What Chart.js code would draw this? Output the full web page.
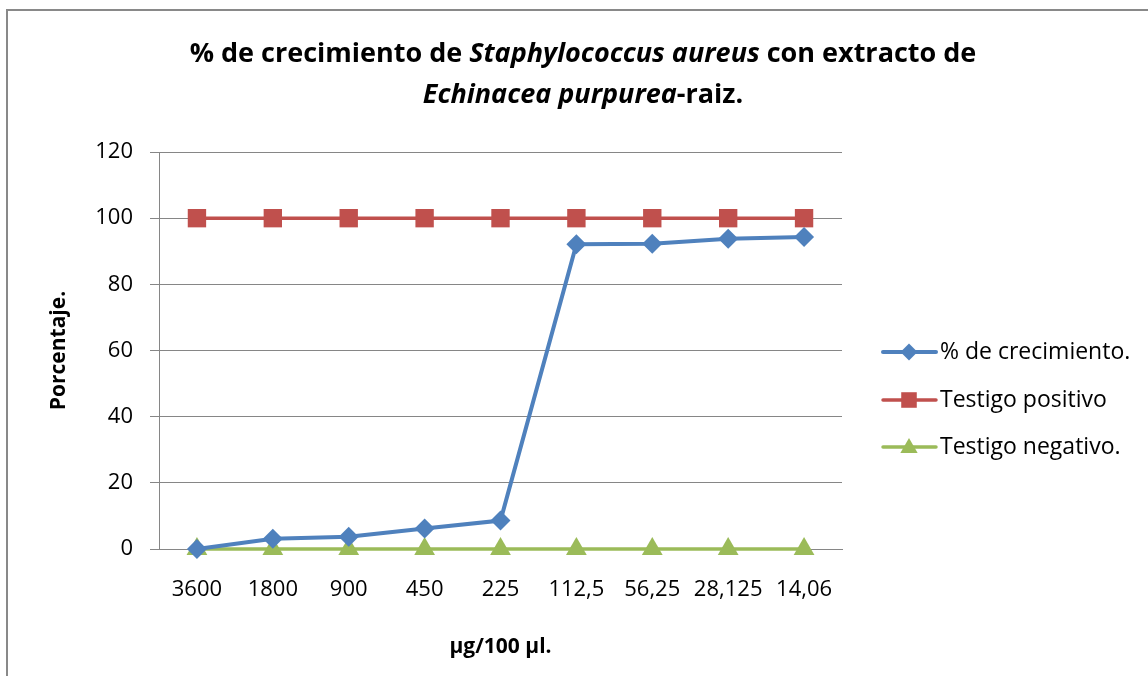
<!DOCTYPE html>
<html>
<head>
<meta charset="utf-8">
<script src="https://cdn.jsdelivr.net/npm/chart.js@4/dist/chart.umd.min.js"></script>
<style>
  html, body { margin:0; padding:0; background:#fff; }
  #wrap { position:relative; width:1148px; height:676px; overflow:hidden; background:#fff; }
  #frame { position:absolute; left:6px; top:9px; width:1200px; height:700px; border-left:2px solid #898989; border-top:2px solid #898989; box-sizing:border-box; }
  canvas { position:absolute; left:0; top:0; }
  .title { position:absolute; left:0; width:1166px; text-align:center; font-family:"Open Sans", sans-serif; font-weight:bold; font-size:27px; line-height:36px; color:#000; white-space:nowrap; }
</style>
</head>
<body>
<div id="wrap">
  <div id="frame"></div>
  <canvas id="c" width="1148" height="676"></canvas>
  <div class="title" style="top:34px;">% de crecimiento de <i>Staphylococcus aureus</i> con extracto de</div>
  <div class="title" style="top:75px;"><i>Echinacea purpurea</i>-raiz.</div>
</div>
<script>
const categories = ['3600', '1800', '900', '450', '225', '112,5', '56,25', '28,125', '14,06'];
const seriesNames = ['% de crecimiento.', 'Testigo positivo', 'Testigo negativo.'];
const crecimiento = [0, 3.1, 3.7, 6.2, 8.6, 92.1, 92.3, 93.8, 94.3];
const testigoPositivo = [100, 100, 100, 100, 100, 100, 100, 100, 100];
const testigoNegativo = [0, 0, 0, 0, 0, 0, 0, 0, 0];
const yAxisTitle = 'Porcentaje.';
const xAxisTitle = 'µg/100 µl.';

const BLUE = '#4F81BD', RED = '#C0504D', GREEN = '#9BBB59';
const FONT = '"Open Sans", sans-serif';

const legendPlugin = {
  id: 'sideLegend',
  afterDraw(chart) {
    const ctx = chart.ctx;
    const ys = [352, 400, 447];
    chart.data.datasets.forEach((ds, i) => {
      const y = ys[i];
      ctx.save();
      ctx.strokeStyle = ds.borderColor;
      ctx.lineWidth = ds.borderWidth;
      ctx.lineCap = 'round';
      ctx.beginPath();
      ctx.moveTo(883, y);
      ctx.lineTo(936, y);
      ctx.stroke();
      ctx.fillStyle = ds.pointBackgroundColor;
      ctx.strokeStyle = ds.pointBackgroundColor;
      const r = ds.pointStyle === 'triangle' ? 10 : (ds.pointStyle === 'rect' ? 11 : 8.5);
      Chart.helpers.drawPoint(ctx, { pointStyle: ds.pointStyle, rotation: 0, borderWidth: 0, radius: r },
        909, y + (ds.pointStyle === 'triangle' ? 1 : 0));
      ctx.fillStyle = '#000';
      ctx.font = '23px ' + FONT;
      ctx.textBaseline = 'middle';
      ctx.textAlign = 'left';
      ctx.fillText(ds.label, 940, y);
      ctx.restore();
    });
  }
};

new Chart(document.getElementById('c'), {
  type: 'line',
  data: {
    labels: categories,
    datasets: [
      { label: seriesNames[0], data: crecimiento, borderColor: BLUE, backgroundColor: BLUE,
        pointBackgroundColor: BLUE, pointBorderColor: BLUE, borderWidth: 4, pointStyle: 'rectRot',
        pointRadius: 10, pointBorderWidth: 0, tension: 0, clip: false, order: 0 },
      { label: seriesNames[1], data: testigoPositivo, borderColor: RED, backgroundColor: RED,
        pointBackgroundColor: RED, pointBorderColor: RED, borderWidth: 3.5, pointStyle: 'rect',
        pointRadius: 13, pointBorderWidth: 0, tension: 0, clip: false, order: 1 },
      { label: seriesNames[2], data: testigoNegativo, borderColor: GREEN, backgroundColor: GREEN,
        pointBackgroundColor: GREEN, pointBorderColor: GREEN, borderWidth: 3.5, pointStyle: 'triangle',
        pointRadius: 12, pointBorderWidth: 0, tension: 0, clip: false, order: 2 }
    ]
  },
  options: {
    responsive: false,
    animation: false,
    devicePixelRatio: 1,
    layout: { padding: { top: 152, right: 306, bottom: 0, left: 0 } },
    plugins: { legend: { display: false }, title: { display: false }, tooltip: { enabled: false } },
    scales: {
      x: {
        type: 'category',
        offset: true,
        grid: { display: false, drawTicks: false },
        border: { display: true, color: '#868686', width: 1 },
        ticks: { color: '#000', font: { family: FONT, size: 22 }, padding: 28, maxRotation: 0, autoSkip: false },
        title: { display: true, text: xAxisTitle, color: '#000', font: { family: FONT, size: 21, weight: 'bold' }, padding: { top: 0, bottom: 16 } },
        afterFit(scale) { scale.height = 127; }
      },
      y: {
        min: 0, max: 120,
        ticks: { stepSize: 20, color: '#000', font: { family: FONT, size: 22 }, padding: 17 },
        grid: { color: '#868686', lineWidth: 1, drawTicks: true, tickLength: 9 },
        border: { display: true, color: '#868686', width: 1 },
        title: { display: true, text: yAxisTitle, color: '#000', font: { family: FONT, size: 21, weight: 'bold' }, padding: { top: 46, bottom: 0 } },
        afterFit(scale) { scale.width = 159; }
      }
    }
  },
  plugins: [legendPlugin]
});
</script>
</body>
</html>
